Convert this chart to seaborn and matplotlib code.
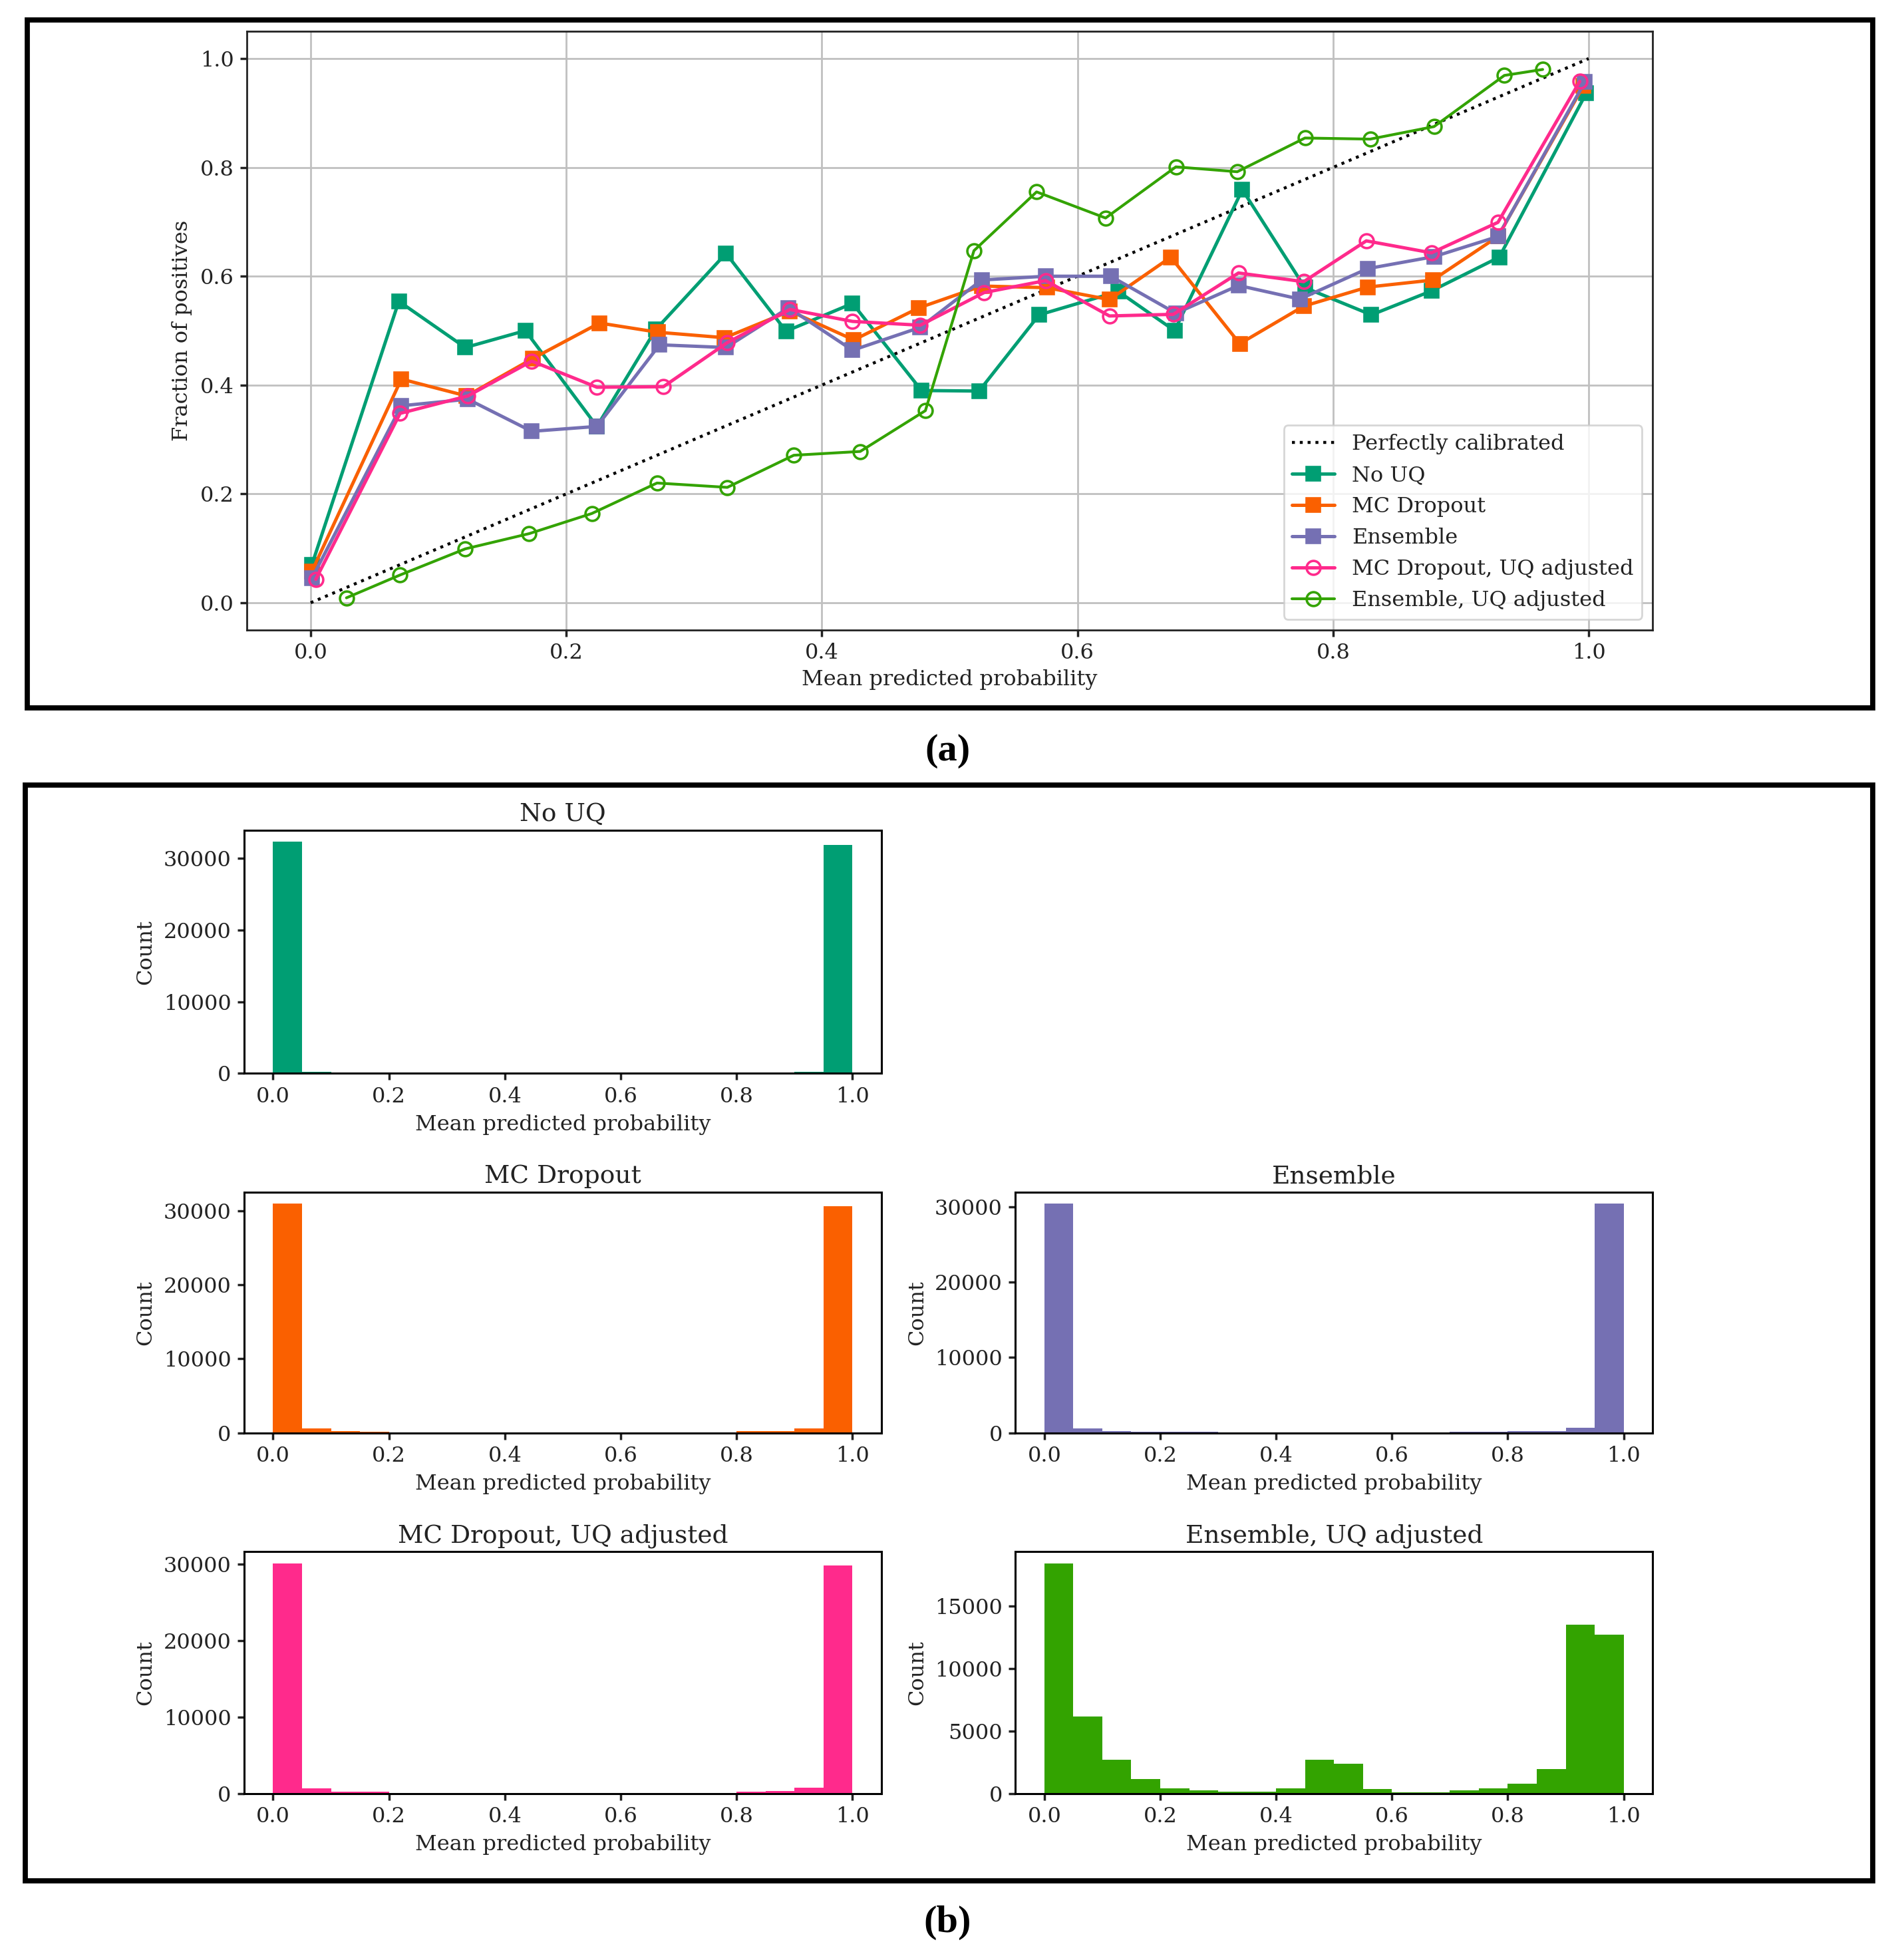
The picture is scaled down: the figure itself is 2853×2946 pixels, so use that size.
import numpy as np
import pandas as pd
import matplotlib
matplotlib.use('Agg')
import matplotlib.pyplot as plt
import seaborn as sns
from matplotlib.patches import Rectangle

# ==============================================================================
# Data
# ==============================================================================

model_names = ['No UQ', 'MC Dropout', 'Ensemble', 'MC Dropout, UQ adjusted', 'Ensemble, UQ adjusted']
model_colors = ['#009e73', '#fa6000', '#7570b3', '#ff2a8c', '#33a300']

# calibration curves: mean predicted probability / fraction of positives per bin
x_no_uq = [0.001, 0.069, 0.121, 0.168, 0.224, 0.270, 0.325, 0.372, 0.424, 0.478,
           0.523, 0.570, 0.632, 0.676, 0.729, 0.778, 0.830, 0.877, 0.930, 0.998]
y_no_uq = [0.070, 0.554, 0.469, 0.500, 0.324, 0.502, 0.642, 0.499, 0.550, 0.390,
           0.389, 0.529, 0.572, 0.500, 0.759, 0.579, 0.529, 0.573, 0.635, 0.936]

x_mc = [0.001, 0.071, 0.122, 0.174, 0.226, 0.272, 0.324, 0.375, 0.425, 0.476,
        0.525, 0.576, 0.625, 0.673, 0.727, 0.777, 0.827, 0.878, 0.929, 0.996]
y_mc = [0.058, 0.411, 0.380, 0.449, 0.514, 0.497, 0.487, 0.536, 0.483, 0.542,
        0.582, 0.579, 0.557, 0.635, 0.476, 0.545, 0.580, 0.593, 0.673, 0.950]

x_ens = [0.001, 0.071, 0.123, 0.173, 0.224, 0.273, 0.325, 0.374, 0.424, 0.477,
         0.525, 0.575, 0.626, 0.677, 0.726, 0.774, 0.827, 0.879, 0.929, 0.997]
y_ens = [0.045, 0.362, 0.374, 0.315, 0.324, 0.474, 0.469, 0.542, 0.464, 0.506,
         0.593, 0.600, 0.600, 0.532, 0.583, 0.558, 0.614, 0.636, 0.673, 0.957]

x_mc_uq = [0.004, 0.070, 0.123, 0.173, 0.224, 0.276, 0.326, 0.375, 0.424, 0.477,
           0.527, 0.575, 0.625, 0.675, 0.726, 0.777, 0.826, 0.877, 0.929, 0.993]
y_mc_uq = [0.043, 0.348, 0.380, 0.444, 0.396, 0.397, 0.478, 0.539, 0.517, 0.510,
           0.570, 0.592, 0.527, 0.530, 0.606, 0.590, 0.665, 0.643, 0.699, 0.958]

x_ens_uq = [0.028, 0.070, 0.121, 0.171, 0.220, 0.271, 0.326, 0.378, 0.430, 0.481,
            0.519, 0.568, 0.622, 0.677, 0.725, 0.778, 0.829, 0.879, 0.934, 0.964]
y_ens_uq = [0.009, 0.051, 0.099, 0.127, 0.164, 0.220, 0.212, 0.271, 0.278, 0.353,
            0.647, 0.755, 0.707, 0.801, 0.792, 0.854, 0.852, 0.875, 0.969, 0.980]

# histogram counts, 20 bins of width 0.05 on [0, 1]
bin_centers = [0.025 + 0.05 * k for k in range(20)]

counts_no_uq = [32300, 210, 0, 0, 0, 0, 0, 0, 0, 0,
                0, 0, 0, 0, 0, 0, 0, 0, 220, 31900]
counts_mc = [31000, 600, 240, 150, 20, 10, 0, 0, 0, 0,
             0, 0, 0, 0, 10, 20, 200, 200, 600, 30700]
counts_ens = [30400, 570, 220, 150, 150, 150, 0, 0, 0, 0,
              0, 0, 0, 0, 150, 150, 200, 200, 630, 30400]
counts_mc_uq = [30150, 640, 260, 200, 80, 80, 80, 80, 80, 80,
                80, 80, 80, 80, 80, 80, 260, 290, 780, 29850]
counts_ens_uq = [18460, 6170, 2680, 1150, 430, 225, 120, 120, 430, 2680,
                 2380, 330, 100, 100, 225, 430, 800, 1970, 13520, 12720]

# ==============================================================================
# Figure
# ==============================================================================

sns.set_theme(style='white')
plt.rcParams['font.family'] = ['DejaVu Serif']
plt.rcParams['axes.edgecolor'] = '#222222'
plt.rcParams['axes.linewidth'] = 1.0
plt.rcParams['xtick.color'] = '#222222'
plt.rcParams['ytick.color'] = '#222222'
plt.rcParams['text.color'] = '#222222'
plt.rcParams['axes.labelcolor'] = '#222222'

fig = plt.figure(figsize=(2853 / 200, 2946 / 200), dpi=200)

# --- panel (a): calibration curves ---
ax = fig.add_axes([0.130, 0.6786, 0.7407, 0.3054])
sns.lineplot(x=[0, 1], y=[0, 1], color='black', linestyle=':', linewidth=1.6,
             label='Perfectly calibrated', ax=ax)

series = [(x_no_uq, y_no_uq), (x_mc, y_mc), (x_ens, y_ens), (x_mc_uq, y_mc_uq), (x_ens_uq, y_ens_uq)]
for i, (xs, ys) in enumerate(series):
    hollow = i >= 3
    sns.lineplot(
        x=xs, y=ys, ax=ax,
        color=model_colors[i],
        label=model_names[i],
        marker='o' if hollow else 's',
        markersize=7.5 if hollow else 7,
        markerfacecolor='none' if hollow else model_colors[i],
        markeredgecolor=model_colors[i],
        markeredgewidth=1.3,
        linewidth=1.5 if i == 4 else 1.8,
        sort=False,
    )

ax.set_xlim(-0.05, 1.05)
ax.set_ylim(-0.05, 1.05)
ax.set_xticks([0.0, 0.2, 0.4, 0.6, 0.8, 1.0])
ax.set_yticks([0.0, 0.2, 0.4, 0.6, 0.8, 1.0])
ax.grid(True, color='#c0c0c0', linewidth=1.0)
ax.tick_params(labelsize=11.5, length=3.5, bottom=True, left=True)
ax.set_xlabel('Mean predicted probability', fontsize=11.5, labelpad=3)
ax.set_ylabel('Fraction of positives', fontsize=11.5)
ax.legend(loc='lower right', fontsize=11.5, frameon=True, fancybox=True,
          framealpha=0.8, handlelength=2.0)

# --- panel (b): histograms ---
hist_specs = [
    (counts_no_uq, 0, [0.1286, 0.4524, 0.3358, 0.1240]),
    (counts_mc, 1, [0.1286, 0.2690, 0.3358, 0.1227]),
    (counts_ens, 2, [0.5350, 0.2690, 0.3357, 0.1227]),
    (counts_mc_uq, 3, [0.1286, 0.0850, 0.3358, 0.1233]),
    (counts_ens_uq, 4, [0.5350, 0.0850, 0.3357, 0.1233]),
]

for counts, idx, rect in hist_specs:
    hax = fig.add_axes(rect)
    df = pd.DataFrame({'prob': bin_centers, 'count': counts})
    sns.histplot(data=df, x='prob', weights='count', bins=20, binrange=(0, 1),
                 color=model_colors[idx], alpha=1.0, linewidth=0, ax=hax)
    hax.set_xlim(-0.05, 1.05)
    hax.set_xticks([0.0, 0.2, 0.4, 0.6, 0.8, 1.0])
    hax.set_title(model_names[idx], fontsize=13.5, pad=5)
    hax.set_xlabel('Mean predicted probability', fontsize=11.5)
    hax.set_ylabel('Count', fontsize=11.5)
    hax.tick_params(labelsize=11.5, length=3.5, direction='out', bottom=True, left=True)
    for sp in hax.spines.values():
        sp.set_color('black')
        sp.set_linewidth(1.1)

# panel borders and labels
fig.patches.append(Rectangle((0.0145, 0.639), 0.9723, 0.3508, transform=fig.transFigure,
                             fill=False, edgecolor='black', linewidth=2.8))
fig.patches.append(Rectangle((0.0132, 0.0403), 0.9736, 0.5591, transform=fig.transFigure,
                             fill=False, edgecolor='black', linewidth=2.8))
fig.text(0.4993, 0.6166, '(a)', ha='center', va='center', fontsize=21, fontweight='bold',
         family=['Liberation Serif', 'DejaVu Serif'], color='black')
fig.text(0.4993, 0.0192, '(b)', ha='center', va='center', fontsize=21, fontweight='bold',
         family=['Liberation Serif', 'DejaVu Serif'], color='black')

fig.savefig('out.png', dpi=200, facecolor='white')
